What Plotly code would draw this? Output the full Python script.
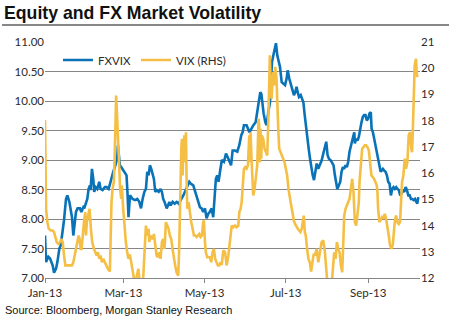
import pandas as pd
import plotly.graph_objects as go

# ---- data (days since 2013-01-01) ----
fx_days = [0, 0.8, 2.5, 3.8, 5.8, 6.8, 8.3, 9.3, 10.8, 11.8, 12.8, 13.8, 14.3, 15.8, 16.8, 18.3, 19.3,
           20.3, 21.3, 22.3, 23.3, 24.5, 26.3, 27.3, 28.8, 29.5, 30.8, 31.8, 32.8, 33.8, 34.3, 35.3,
           36.3, 37, 38, 39.3, 40.8, 41.8, 43.3, 45, 46.3, 47.8, 49.3, 50.3, 51.3, 52.5, 53.3, 54.3,
           54.8, 55.3, 56.3, 57.3, 58.3, 60, 61.3, 62, 62.8, 63.9, 65.9, 67.7, 69.4, 70.9, 72.2, 73.4,
           74.7, 75.9, 76.9, 77.9, 78.9, 79.9, 80.9, 81.9, 82.9, 83.9, 85.5, 86.9, 87.9, 88.9, 89.9,
           91.5, 92.5, 93.5, 94.5, 96, 97.5, 99, 100.5, 104, 108.5, 109.5, 111.5, 112.8, 114, 115.3,
           116.5, 117.8, 119, 120.3, 121.5, 122.8, 124, 125.3, 126.5, 127.5, 128.5, 129.5, 130.5,
           131.6, 133, 134.6, 136.1, 137.9, 139.9, 141.1, 142.9, 144.6, 146.1, 147.6, 148.6, 149.6,
           151.6, 153.7, 154.9, 156.7, 158.4, 159.2, 160.4, 161.2, 161.9, 162.7, 163.4, 164.4, 165.7,
           166.7, 167.9, 169.2, 169.9, 170.7, 171.7, 173, 173.7, 174.7, 175.7, 176.7, 178, 179.2,
           180.5, 181.7, 182.5, 183.7, 184.7, 186, 187.2, 188.2, 189.2, 190, 191, 192.3, 193.3, 194.3,
           195.3, 196.3, 197.3, 198.3, 199.3, 200.3, 201.3, 202.3, 204.3, 205.5, 206.8, 208, 209.3,
           210.5, 211.5, 212.5, 213.5, 215, 216, 217, 218, 219, 219.8, 221, 222, 223, 224, 225, 226,
           227, 228, 229, 230, 231, 232, 232.6, 233, 234, 235, 236, 237, 238, 239, 240, 241, 242, 243,
           244, 245, 245.6, 246.6, 247.6, 248.6, 249.6, 250.6, 251.6, 252.4, 253.1, 254.1, 255.1,
           256.1, 257.1, 258.1, 259.1, 260.1, 261.1, 262.1, 263.1, 264.1, 265.1, 266.1, 267.1, 268.2,
           269.2, 270.2, 271.2, 272.2, 273.2, 274.2, 275.2, 276.2, 277.2, 278.2, 279.2, 280, 280.7]
fx_vals = [7.72, 7.27, 7.36, 7.33, 7.21, 7.09, 7.16, 7.27, 7.50, 7.55, 7.72, 7.89, 7.98, 8.34, 8.40, 8.29, 8.18,
           8.03, 7.72, 7.89, 8.12, 8.18, 8.18, 8.12, 8.20, 8.18, 8.29, 8.34, 8.51, 8.57, 8.49, 8.85,
           8.68, 8.46, 8.54, 8.51, 8.63, 8.51, 8.49, 8.54, 8.54, 8.51, 8.63, 8.74, 8.80, 8.88, 8.97, 9.02,
           9.25, 9.08, 8.91, 8.88, 8.85, 8.80, 8.74, 8.46, 8.03, 8.40, 8.34, 8.32, 8.34, 8.29, 8.18, 8.34,
           8.46, 8.51, 8.80, 8.74, 8.91, 8.85, 8.74, 8.68, 8.46, 8.49, 8.46, 8.51, 8.46, 8.34, 8.29,
           8.18, 8.23, 8.29, 8.23, 8.29, 8.26, 8.29, 8.26, 8.40, 8.63, 8.60, 8.57, 8.46, 8.40, 8.29,
           8.20, 8.18, 8.12, 8.18, 8.01, 8.09, 8.12, 8.18, 8.03, 8.40, 8.68, 8.74, 8.63,
           8.80, 9.00, 8.97, 9.11, 9.02, 8.91, 9.16, 9.16, 9.14, 9.25, 9.42, 9.47, 9.59,
           9.59, 9.47, 9.53, 9.59, 9.64, 9.76, 9.87, 9.98, 10.15, 10.12, 9.93, 9.79, 9.64,
           9.59, 9.81, 9.98, 10.32, 10.66, 10.77, 10.89, 10.98, 10.77, 10.66, 10.58, 10.32, 10.29,
           10.27, 10.38, 10.52, 10.38, 10.29, 10.21, 10.10, 10.15, 10.24, 10.15, 10.07, 10.10, 10.04, 9.98,
           9.76, 9.53, 9.36, 9.19, 9.02, 8.85, 8.74, 8.66, 8.94, 8.85, 8.91, 8.99, 9.11,
           9.25, 9.31, 9.08, 9.02, 8.99, 8.94, 8.91, 8.74, 8.57, 8.51, 8.57, 8.63, 8.80, 8.88, 8.85, 8.91,
           8.88, 8.97, 9.14, 9.25, 9.33, 9.42, 9.47, 9.28, 9.36, 9.33, 9.39, 9.56, 9.64, 9.73, 9.76, 9.76, 9.67, 9.70,
           9.79, 9.81, 9.53, 9.47, 9.36, 9.25, 9.14, 9.02, 8.91, 8.80, 8.82, 8.85, 8.82,
           8.80, 8.74, 8.63, 8.60, 8.40, 8.51, 8.54, 8.51, 8.54, 8.51, 8.49, 8.40, 8.43,
           8.49, 8.46, 8.54, 8.49, 8.40, 8.40, 8.34, 8.34, 8.32, 8.34, 8.29, 8.26, 8.37]

vix_days = [0, 0.8, 1.8, 2.8, 4.3, 5.8, 6.8, 7.8, 8.8, 10, 11.3, 12.3, 13.3, 14.3, 15.3, 16.8, 18.8, 20.3,
            21.3, 22.3, 23.3, 24.3, 25.3, 26, 26.8, 27.5, 28.3, 29.3, 30.3, 30.8, 31.5, 32.5, 33.5, 34.5,
            35.5, 36.8, 37.8, 38.8, 39.8, 40.8, 41.8, 42.8, 43.8, 44.8, 45.8, 47.3, 48.8, 49.3, 50, 50.8,
            51.8, 52.5, 53.5, 54.3, 55, 55.8, 56.5, 57.3, 57.8, 58.8, 59.8, 60.8, 61.8, 62.8, 63.8, 65.2,
            66.4, 67.7, 68.9, 70.2, 71.4, 72.7, 73.9, 74.9, 75.9, 76.9, 77.9, 78.4, 79.4, 80.4, 81.4, 81.9,
            82.9, 83.9, 84.9, 85.9, 86.9, 87.9, 88.9, 89.9, 90.9, 91.9, 92.9, 93.9, 94.9, 95.9, 96.9, 97.9,
            98.9, 100.2, 100.9, 101.5, 102, 102.5, 103, 103.5, 104, 104.8, 105.5, 106, 106.5, 107, 108, 109,
            110, 111, 112, 113, 114, 115, 116, 117, 118, 119, 119.5, 120.3, 121, 122, 123, 124, 125, 126,
            127, 128, 129, 130, 131, 132, 132.9, 134.1, 135.4, 136.6, 137.9, 139.1, 140.4, 141.6, 142.9,
            144.1, 145.4, 146.1, 147.1, 147.9, 148.6, 149.6, 150.6, 151.6, 152.6, 153.6, 154.1, 154.6,
            155.4, 156.1, 156.6, 157.6, 158.6, 159.6, 160.6, 161.1, 161.6, 162.1, 162.6, 163.1, 164.1,
            165.1, 166.1, 167.1, 167.9, 168.6, 169.1, 169.6, 170.4, 171.1, 171.6, 172.4, 173.1, 174.1,
            174.6, 175.4, 176.1, 177.1, 178.1, 179.1, 180.1, 181.1, 182.1, 183.1, 184.1, 185.1, 186.1,
            187.1, 188.1, 189.1, 190.1, 191.1, 192.1, 193.1, 194.1, 194.6, 195.4, 196.1, 197.1, 198.1,
            199.1, 200.1, 201.1, 202.1, 203, 204.3, 205.5, 206.8, 208, 209.3, 210.5, 211.5, 212.5, 214,
            215.5, 216.5, 217.5, 218.5, 219.5, 220.5, 221.5, 222.5, 223.5, 224.5, 225, 226, 227, 228, 229,
            230, 231, 232, 233, 234, 235, 236, 236.5, 237.5, 238.5, 239.5, 240.5, 241.5, 242.5, 243.5,
            244.5, 245.5, 246.5, 247.5, 248.5, 249.5, 250, 250.5, 251.5, 252.5, 253.5, 254.5, 255.5,
            256.5, 257.5, 258.5, 259.5, 260.5, 261.5, 262, 263, 264, 265, 266, 267, 267.5, 268.5, 269.5,
            270.5, 271.5, 272.5, 273.5, 274.5, 275.5, 276, 276.5, 277, 278, 278.5, 279, 279.5, 280]
vix_vals = [18.02, 14.64, 14.13, 13.88, 13.81, 13.81, 13.75, 13.49, 13.37, 13.30, 13.37, 13.49, 13.37, 12.86, 12.48, 12.48, 12.48, 12.48,
            12.60, 12.86, 13.05, 13.24, 13.62, 13.49, 13.11, 13.11, 13.62, 14.13, 14.51, 13.62, 14.13, 14.38, 14.64, 13.88,
            13.37, 13.11, 12.98, 12.86, 12.98, 12.73, 12.86, 12.60, 12.73, 12.60, 12.48, 12.35, 12.25, 13.62, 14.89, 15.40,
            15.66, 16.80, 18.96, 18.07, 17.06, 15.91, 15.40, 15.02, 15.53, 14.64, 13.88, 13.37, 12.98, 12.73, 12.90, 12.50,
            12.10, 11.75, 12.05, 12.35, 11.75, 11.65, 12.05, 13.11, 14.00, 13.62, 13.88, 13.37, 13.62, 13.49, 13.56, 13.68,
            13.11, 12.86, 12.79, 12.98, 12.73, 13.37, 13.49, 13.11, 14.13, 14.00, 13.88, 13.62, 13.49, 13.11, 12.73, 12.48,
            12.22, 12.09, 13.11, 14.89, 15.91, 16.93, 17.31, 15.91, 16.80, 17.44, 16.42, 17.56, 15.66, 14.64, 14.89, 14.38,
            14.13, 13.88, 13.62, 13.62, 13.56, 13.62, 13.68, 13.56, 13.62, 14.13, 14.19, 13.37, 12.98, 12.79, 12.79, 12.79, 12.60, 12.98,
            13.11, 12.73, 12.60, 12.48, 12.48, 12.60, 12.50, 13.05, 12.98, 12.48, 12.86, 13.37, 14.00, 13.94, 14.00,
            13.94, 14.00, 14.51, 14.64, 14.89, 15.53, 16.17, 16.23, 16.17, 16.29, 17.44, 16.42, 17.56,
            16.42, 15.27, 15.15, 15.40, 15.78, 16.29, 18.07, 17.82, 16.42, 17.69, 16.55, 17.44, 17.31,
            16.93, 16.80, 16.67, 17.95, 18.96, 20.49, 19.47, 18.84, 19.47, 19.85, 19.35, 20.05, 19.60,
            18.58, 17.69, 16.93, 16.80, 16.67, 16.55, 16.42, 16.17, 15.91, 15.40, 15.02, 14.77, 14.51,
            14.19, 14.06, 13.94, 13.88, 13.81, 13.75, 13.88, 14.13, 14.38, 13.75, 13.62, 13.11, 12.73,
            12.60, 12.25, 12.60, 12.92, 12.86, 13.11, 12.60, 13.11, 13.37, 13.43, 12.98, 12.35, 11.70, 11.60,
            11.70, 12.35, 12.98, 12.73, 13.37, 13.11, 12.98, 12.48, 12.22, 13.62, 14.38, 14.64, 14.77, 14.89, 15.02,
            15.40, 15.78, 15.27, 14.13, 14.00, 14.51, 14.89, 15.66, 16.42, 16.93, 16.99, 17.06, 17.06, 16.99, 16.87,
            16.42, 15.91, 15.85, 15.78, 15.66, 15.53, 15.27, 14.64, 14.13, 14.26, 14.32, 14.26, 14.45,
            14.26, 14.00, 13.62, 13.24, 13.11, 13.24, 13.62, 14.13, 14.38, 14.13, 14.06, 14.13, 14.64, 15.66, 15.91,
            16.55, 16.17, 16.42, 17.44, 17.56, 16.93, 16.80, 17.44, 18.71, 20.11, 20.24, 20.36, 19.85, 19.66]

left_ticks = [7.0, 7.5, 8.0, 8.5, 9.0, 9.5, 10.0, 10.5, 11.0]
right_ticks = [12, 13, 14, 15, 16, 17, 18, 19, 20, 21]
x_tick_dates = ["2013-01-01", "2013-03-01", "2013-05-01", "2013-07-01", "2013-09-01"]

start = pd.Timestamp("2013-01-01")
fx_dates = [start + pd.Timedelta(days=d) for d in fx_days]
vix_dates = [start + pd.Timedelta(days=d) for d in vix_days]

BLUE = "#0A73B8"
GOLD = "#F5BF45"
TXT = "#2B2B2B"
GRID = "#868686"
FONT = "Lato, Liberation Sans, Arial, sans-serif"

fig = go.Figure()
fig.add_trace(go.Scatter(x=fx_dates, y=fx_vals, name="FXVIX", mode="lines",
                         line=dict(color=BLUE, width=2.6), yaxis="y"))
fig.add_trace(go.Scatter(x=vix_dates, y=vix_vals, name="VIX (RHS)", mode="lines",
                         line=dict(color=GOLD, width=2.6), yaxis="y2"))

W, H = 459, 327
L, R, T, B = 45, 39, 42, 49
pw, ph = W - L - R, H - T - B

def px(xp):
    return (xp - L) / pw

def py(yp):
    return (H - B - yp) / ph

fig.update_layout(
    width=W, height=H,
    margin=dict(l=L, r=R, t=T, b=B),
    paper_bgcolor="white", plot_bgcolor="white",
    font=dict(family=FONT, size=11, color=TXT),
    showlegend=True,
    legend=dict(orientation="h", x=px(58), y=py(60), xanchor="left", yanchor="middle",
                bgcolor="rgba(0,0,0,0)", font=dict(size=11.5, color=TXT),
                itemwidth=30, tracegroupgap=0),
    xaxis=dict(type="date", range=["2013-01-01", "2013-10-10"],
               tickvals=x_tick_dates, tickformat="%b-%y",
               showgrid=False, showline=True, linecolor=GRID, linewidth=1,
               ticks="outside", ticklen=4, tickcolor=GRID, tickfont=dict(size=11.5, color=TXT),
               zeroline=False),
    yaxis=dict(range=[7, 11], tickvals=left_ticks, tickformat=".2f",
               showgrid=True, gridcolor=GRID, gridwidth=1, zeroline=False,
               showline=False, ticks="", tickfont=dict(size=11.5, color=TXT)),
    yaxis2=dict(range=[12, 21], tickvals=right_ticks, overlaying="y", side="right",
                showgrid=False, zeroline=False, showline=False, ticks="",
                tickfont=dict(size=11.5, color=TXT)),
)

fig.add_annotation(text="<b>Equity and FX Market Volatility</b>", xref="paper", yref="paper",
                   x=px(2), y=py(13), xanchor="left", yanchor="middle", showarrow=False,
                   font=dict(family="Liberation Sans, Arial, sans-serif", size=17.7, color="#111111"))
fig.add_shape(type="line", xref="paper", yref="paper", x0=px(2), x1=px(449), y0=py(25), y1=py(25),
              line=dict(color="#111111", width=1))
fig.add_annotation(text="Source: Bloomberg, Morgan Stanley Research", xref="paper", yref="paper",
                   x=px(3), y=py(310), xanchor="left", yanchor="middle", showarrow=False,
                   font=dict(family="Liberation Sans, Arial, sans-serif", size=11, color="#111111"))

fig.write_html("out.html")
